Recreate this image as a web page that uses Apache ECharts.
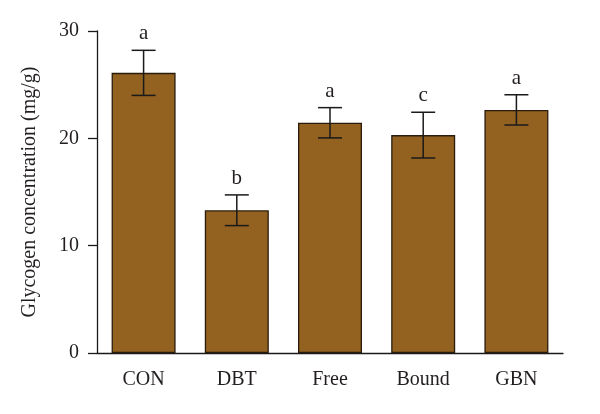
<!DOCTYPE html>
<html>
<head>
<meta charset="utf-8">
<script src="https://cdn.jsdelivr.net/npm/echarts@6/dist/echarts.min.js"></script>
<style>html,body{margin:0;padding:0;background:#fff;}#c{width:600px;height:414px;}</style>
</head>
<body>
<div id="c"></div>
<script>
const categories = ['CON', 'DBT', 'Free', 'Bound', 'GBN'];
const means = [26.1, 13.3, 21.45, 20.3, 22.65];
const errors = [2.1, 1.43, 1.41, 2.13, 1.41];
const letters = ['a', 'b', 'a', 'c', 'a'];
const yTicks = [0, 10, 20, 30];

const FONT = '"Liberation Serif", "DejaVu Serif", serif';
const chart = echarts.init(document.getElementById('c'));
chart.setOption({
  animation: false,
  backgroundColor: '#fff',
  grid: { left: 97, right: 37, top: 31, bottom: 61 },
  xAxis: {
    type: 'category',
    data: categories,
    axisLine: { lineStyle: { color: '#1a1a1a', width: 1.3 } },
    axisTick: { alignWithLabel: true, length: 9, lineStyle: { color: '#1a1a1a', width: 1.3 } },
    axisLabel: { fontFamily: FONT, fontSize: 20, color: '#231f20', margin: 17 }
  },
  yAxis: {
    type: 'value',
    min: 0, max: 30, interval: 10,
    name: 'Glycogen concentration (mg/g)',
    nameLocation: 'middle',
    nameGap: 57,
    nameTextStyle: { fontFamily: FONT, fontSize: 20, color: '#231f20' },
    splitLine: { show: false },
    axisLine: { show: true, lineStyle: { color: '#1a1a1a', width: 1.3 } },
    axisTick: { show: true, length: 9, lineStyle: { color: '#1a1a1a', width: 1.3 } },
    axisLabel: { fontFamily: FONT, fontSize: 20, color: '#231f20', margin: 18,
      formatter: v => yTicks.includes(v) ? String(v) : '' }
  },
  series: [
    {
      type: 'bar',
      data: means,
      barWidth: 64,
      itemStyle: { color: '#936120', borderColor: '#2a1c0c', borderWidth: 1.3 }
    },
    {
      type: 'custom',
      data: means.map((m, i) => [i, m, errors[i]]),
      renderItem: function (params, api) {
        const i = api.value(0), m = api.value(1), e = api.value(2);
        const top = api.coord([i, m + e]);
        const bot = api.coord([i, m - e]);
        const hw = 12;
        const st = { stroke: '#1a1a1a', lineWidth: 1.5 };
        return {
          type: 'group',
          children: [
            { type: 'line', shape: { x1: top[0], y1: top[1], x2: bot[0], y2: bot[1] }, style: st },
            { type: 'line', shape: { x1: top[0] - hw, y1: top[1], x2: top[0] + hw, y2: top[1] }, style: st },
            { type: 'line', shape: { x1: bot[0] - hw, y1: bot[1], x2: bot[0] + hw, y2: bot[1] }, style: st },
            { type: 'text', x: top[0], y: top[1] - 6,
              style: { text: letters[params.dataIndex], fontFamily: FONT, fontSize: 21, fill: '#231f20',
                       align: 'center', verticalAlign: 'bottom' } }
          ]
        };
      },
      z: 5
    }
  ]
});
</script>
</body>
</html>
